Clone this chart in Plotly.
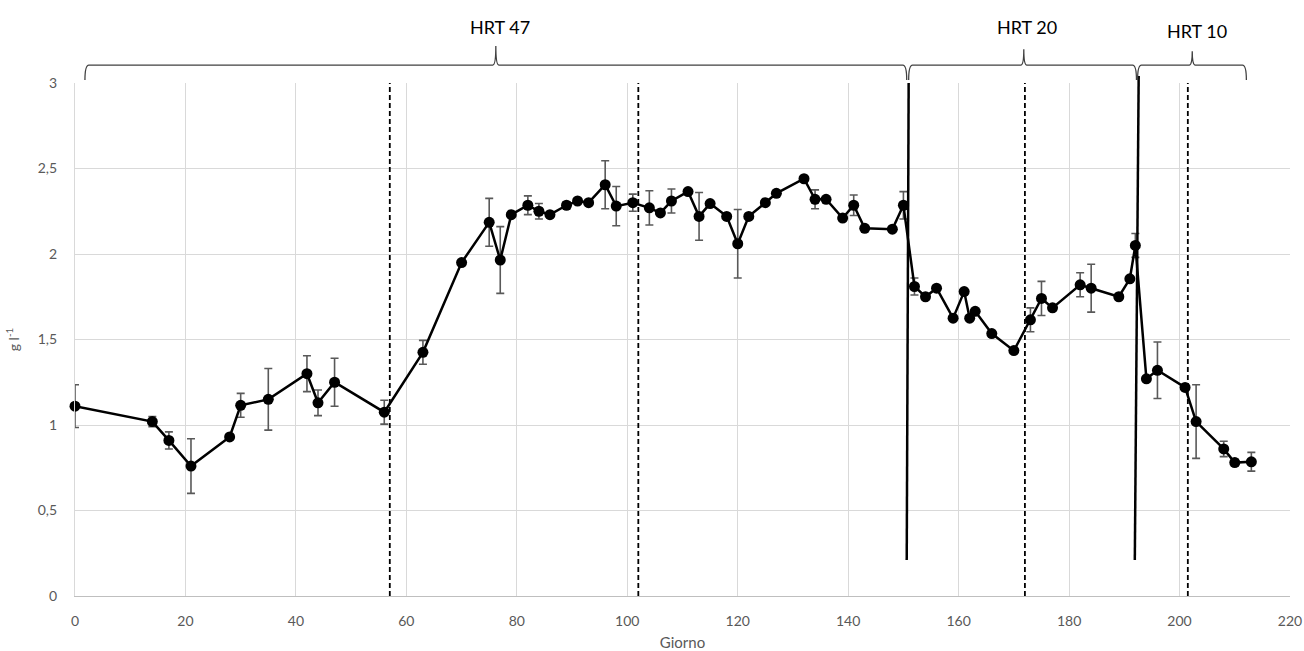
import plotly.graph_objects as go

# ---- data ----
giorno = [0, 14, 17, 21, 28, 30, 35, 42, 44, 47, 56, 63, 70, 75, 77, 79, 82, 84, 86, 89,
          91, 93, 96, 98, 101, 104, 106, 108, 111, 113, 115, 118, 120, 122, 125, 127, 132,
          134, 136, 139, 141, 143, 148, 150, 152, 154, 156, 159, 161, 162, 163, 166, 170,
          173, 175, 177, 182, 184, 189, 191, 192, 194, 196, 201, 203, 208, 210, 213]
valori = [1.11, 1.02, 0.91, 0.76, 0.93, 1.115, 1.15, 1.30, 1.13, 1.25, 1.075, 1.425, 1.95,
          2.185, 1.965, 2.23, 2.285, 2.25, 2.23, 2.285, 2.31, 2.30, 2.405, 2.28, 2.30, 2.27,
          2.24, 2.31, 2.365, 2.22, 2.295, 2.22, 2.06, 2.22, 2.30, 2.355, 2.44, 2.32, 2.32,
          2.21, 2.285, 2.15, 2.145, 2.285, 1.81, 1.75, 1.80, 1.625, 1.78, 1.625, 1.665, 1.535,
          1.435, 1.615, 1.74, 1.685, 1.82, 1.80, 1.75, 1.855, 2.05, 1.27, 1.32, 1.22, 1.02,
          0.86, 0.78, 0.785]
errori = [0.125, 0.03, 0.05, 0.16, 0, 0.07, 0.18, 0.105, 0.075, 0.14, 0.07, 0.07, 0,
          0.14, 0.195, 0, 0.055, 0.045, 0, 0.02, 0, 0, 0.14, 0.115, 0.05, 0.1, 0, 0.07, 0,
          0.14, 0, 0, 0.2, 0, 0, 0, 0, 0.055, 0, 0, 0.06, 0, 0, 0.08, 0.05, 0, 0, 0, 0, 0,
          0, 0, 0, 0.07, 0.1, 0, 0.07, 0.14, 0, 0, 0.07, 0, 0.165, 0, 0.215, 0.045, 0.02,
          0.055]

dashed_x = [57, 102, 172, 201.5]
# phase boundaries (top x, bottom x, top y paper, bottom y paper)
boundary_top_x = [150.95, 192.6]
boundary_bot_x = [150.6, 191.9]
boundary_top_y = [1.0, 1.0136]
boundary_bot_y = [0.07, 0.07]

phase_labels = ["HRT 47", "HRT 20", "HRT 10"]
phase_start = [1.8, 150.95, 192.4]
phase_end = [150.6, 192.2, 212.1]
phase_tip = [76.2, 171.8, 202.3]
phase_tip_y = [1.072, 1.066, 1.062]
label_x = [76.9, 172.3, 203.2]
label_y = [1.109, 1.109, 1.102]

x_ticks = list(range(0, 221, 20))
y_ticks = [0, 0.5, 1, 1.5, 2, 2.5, 3]

FONT = "Lato"
GREY = "#595959"

fig = go.Figure()
fig.add_trace(go.Scatter(
    x=giorno, y=valori, mode="lines+markers",
    line=dict(color="black", width=2.5),
    marker=dict(color="black", size=11),
    error_y=dict(type="data", array=errori, visible=True, color=GREY, thickness=1.6, width=4),
    cliponaxis=False, showlegend=False,
))

shapes = []
for xd in dashed_x:
    shapes.append(dict(type="line", xref="x", yref="y", x0=xd, x1=xd, y0=0, y1=3,
                       line=dict(color="black", width=1.8, dash="5px,3px"), layer="between"))
for xt, xb, yt, yb in zip(boundary_top_x, boundary_bot_x, boundary_top_y, boundary_bot_y):
    shapes.append(dict(type="line", xref="x", yref="paper", x0=xb, x1=xt, y0=yb, y1=yt,
                       line=dict(color="black", width=2.5), layer="above"))

yb, yh = 1.0058, 1.035
for s, e, t, ty in zip(phase_start, phase_end, phase_tip, phase_tip_y):
    c = 0.7
    d = 0.55
    path = (f"M {s},{yb} Q {s},{yh} {s+c},{yh} L {t-d},{yh} Q {t},{yh} {t},{ty} "
            f"Q {t},{yh} {t+d},{yh} L {e-c},{yh} Q {e},{yh} {e},{yb}")
    shapes.append(dict(type="path", xref="x", yref="paper", path=path,
                       line=dict(color="#404040", width=1.3)))

annotations = []
for lab, lx, ly in zip(phase_labels, label_x, label_y):
    annotations.append(dict(text=lab, x=lx, y=ly, xref="x", yref="paper", showarrow=False,
                            font=dict(family=FONT, size=18, color="black"),
                            xanchor="center", yanchor="middle"))

fig.update_layout(
    template="none",
    width=1304, height=651,
    margin=dict(l=75, r=14, t=83, b=55, autoexpand=False),
    paper_bgcolor="white", plot_bgcolor="white",
    separators=",.",
    font=dict(family=FONT, color=GREY, size=14),
    shapes=shapes, annotations=annotations,
    xaxis=dict(range=[0, 220], tickvals=x_ticks, showgrid=True, gridcolor="#d9d9d9",
               gridwidth=1.2, zeroline=False, showline=True, linecolor="#bfbfbf",
               linewidth=1.2, ticks="", ticklabelstandoff=12, automargin=False,
               tickfont=dict(family=FONT, size=14, color=GREY),
               title=dict(text="Giorno", font=dict(family=FONT, size=15, color=GREY),
                          standoff=12)),
    yaxis=dict(range=[0, 3], tickvals=y_ticks, showgrid=True, gridcolor="#d9d9d9",
               gridwidth=1.2, zeroline=False, showline=True, linecolor="#d9d9d9",
               linewidth=1.2, ticks="", ticklabelstandoff=14, automargin=False,
               tickfont=dict(family=FONT, size=14, color=GREY),
               title=dict(text="g l<sup>-1</sup>", font=dict(family=FONT, size=14, color=GREY),
                          standoff=14)),
)

fig.write_html("out.html", config={"displayModeBar": False},
               post_script="document.body.style.margin='0';document.body.style.overflow='hidden';")
